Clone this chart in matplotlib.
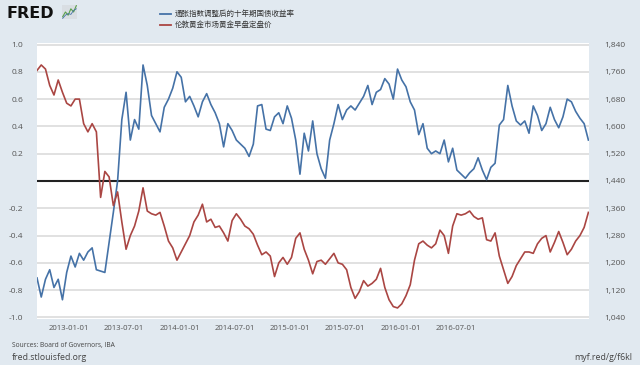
import matplotlib.pyplot as plt
import matplotlib.dates as mdates
import pandas as pd

plt.rcParams['font.family'] = ['Open Sans', 'Noto Sans CJK SC', 'DejaVu Sans']

# biweekly readings, 2012-09-17 .. 2017-09-11
dates = pd.date_range('2012-09-17', periods=131, freq='14D')

# 10-year TIPS real yield (%)
tips = [-0.71, -0.85, -0.72, -0.65, -0.78, -0.72, -0.87, -0.67, -0.55, -0.63,
        -0.53, -0.58, -0.52, -0.49, -0.65, -0.66, -0.67, -0.45, -0.23, 0.00,
        0.45, 0.65, 0.30, 0.45, 0.38, 0.85, 0.70, 0.48, 0.42, 0.36,
        0.54, 0.60, 0.68, 0.80, 0.76, 0.58, 0.62, 0.55, 0.47, 0.58,
        0.64, 0.56, 0.50, 0.42, 0.25, 0.42, 0.37, 0.30, 0.27, 0.24,
        0.18, 0.27, 0.55, 0.56, 0.38, 0.37, 0.47, 0.50, 0.42, 0.55,
        0.46, 0.30, 0.05, 0.35, 0.22, 0.44, 0.20, 0.09, 0.02, 0.30,
        0.42, 0.56, 0.45, 0.52, 0.55, 0.52, 0.57, 0.62, 0.70, 0.56,
        0.65, 0.67, 0.75, 0.71, 0.60, 0.82, 0.74, 0.69, 0.58, 0.52,
        0.34, 0.42, 0.24, 0.20, 0.22, 0.20, 0.30, 0.14, 0.24, 0.08,
        0.05, 0.02, 0.06, 0.09, 0.17, 0.08, 0.01, 0.10, 0.13, 0.41,
        0.45, 0.70, 0.55, 0.44, 0.41, 0.44, 0.35, 0.55, 0.48, 0.37,
        0.42, 0.54, 0.45, 0.39, 0.47, 0.60, 0.58, 0.51, 0.46, 0.42,
        0.30]

# London gold AM fix (USD)
gold = [1764, 1780, 1768, 1720, 1692, 1736, 1700, 1668, 1660, 1680,
        1680, 1608, 1584, 1608, 1584, 1392, 1468, 1452, 1368, 1408,
        1320, 1240, 1280, 1308, 1352, 1420, 1352, 1344, 1340, 1348,
        1308, 1264, 1244, 1208, 1232, 1256, 1280, 1320, 1340, 1372,
        1320, 1328, 1304, 1308, 1288, 1264, 1324, 1344, 1328, 1308,
        1300, 1284, 1252, 1224, 1232, 1220, 1160, 1200, 1216, 1196,
        1216, 1272, 1288, 1240, 1208, 1168, 1204, 1208, 1196, 1212,
        1228, 1200, 1196, 1180, 1128, 1096, 1116, 1148, 1132, 1140,
        1152, 1184, 1128, 1092, 1072, 1068, 1080, 1104, 1136, 1208,
        1256, 1264, 1252, 1244, 1256, 1296, 1280, 1228, 1308, 1344,
        1340, 1344, 1352, 1336, 1328, 1332, 1268, 1264, 1288, 1220,
        1180, 1140, 1160, 1192, 1212, 1232, 1232, 1228, 1256, 1272,
        1280, 1232, 1260, 1292, 1260, 1224, 1240, 1264, 1280, 1304,
        1348]

left_ticks = [-1.0, -0.8, -0.6, -0.4, -0.2, 0.2, 0.4, 0.6, 0.8, 1.0]
right_ticks = [1040, 1120, 1200, 1280, 1360, 1440, 1520, 1600, 1680, 1760, 1840]
x_ticks = ['2013-01-01', '2013-07-01', '2014-01-01', '2014-07-01',
           '2015-01-01', '2015-07-01', '2016-01-01', '2016-07-01']

BG = '#e1e9f0'
BLUE = '#4572a7'
RED = '#aa4643'
TXT = '#555555'

fig = plt.figure(figsize=(6.4, 3.65), dpi=100)
fig.patch.set_facecolor(BG)
ax = fig.add_axes([37 / 640, 1 - 319 / 365, 552 / 640, 276 / 365])
ax.set_facecolor('white')
for s in ax.spines.values():
    s.set_visible(False)

lim = 1.011
ax.set_ylim(-lim, lim)
ax.set_xlim(pd.Timestamp('2012-09-17'), pd.Timestamp('2017-09-13'))
for t in left_ticks:
    ax.axhline(t, color='#d8d8d8', lw=1.1, zorder=0)
ax.axhline(0, color='#222222', lw=1.5, zorder=1)

ax.set_yticks(left_ticks)
ax.set_yticklabels([f'{t:.1f}' for t in left_ticks])
ax.tick_params(axis='y', length=0, pad=10, labelsize=6, labelcolor=TXT)
ax.set_xticks([pd.Timestamp(d) for d in x_ticks])
ax.set_xticklabels(x_ticks)
ax.tick_params(axis='x', length=0, pad=4, labelsize=5.6, labelcolor=TXT)

ax.plot(dates, tips, color=BLUE, lw=1.2, zorder=3)

ax2 = ax.twinx()
for s in ax2.spines.values():
    s.set_visible(False)
ax2.set_ylim(1440 - lim * 400, 1440 + lim * 400)
ax2.set_yticks(right_ticks)
ax2.set_yticklabels([f'{t:,}' for t in right_ticks])
ax2.tick_params(axis='y', length=0, pad=11, labelsize=6, labelcolor=TXT)
ax2.plot(dates, gold, color=RED, lw=1.2, zorder=2)

# header: logo + legend
fig.text(7 / 640, 1 - 14 / 365, 'FRED', fontsize=11.5, fontweight='heavy',
         family='DejaVu Sans', color='#111111', va='center', ha='left')
icon = fig.add_axes([62 / 640, 1 - 19 / 365, 15 / 640, 14 / 365])
icon.set_facecolor('#d9dee3')
icon.plot([0, 1, 2, 3, 4, 5], [0.2, 0.5, 0.3, 0.7, 0.5, 0.9], color='#5aa04a', lw=0.8)
icon.plot([0, 1, 2, 3, 4, 5], [0.1, 0.3, 0.4, 0.35, 0.6, 0.7], color='#4572a7', lw=0.6)
icon.set_xticks([])
icon.set_yticks([])
for s in icon.spines.values():
    s.set_visible(False)

fig.lines.append(plt.Line2D([160 / 640, 171 / 640], [1 - 14 / 365] * 2,
                            transform=fig.transFigure, color=BLUE, lw=1.3))
fig.lines.append(plt.Line2D([160 / 640, 171 / 640], [1 - 25 / 365] * 2,
                            transform=fig.transFigure, color=RED, lw=1.3))
fig.text(175 / 640, 1 - 14 / 365, '通胀指数调整后的十年期国债收益率', fontsize=5.4,
         color='#333333', va='center')
fig.text(175 / 640, 1 - 25 / 365, '伦敦黄金市场黄金早盘定盘价', fontsize=5.4,
         color='#333333', va='center')

# footer
fig.text(12 / 640, 1 - 346 / 365, 'Sources: Board of Governors, IBA', fontsize=4.8,
         color='#444444', va='center')
fig.text(12 / 640, 1 - 358 / 365, 'fred.stlouisfed.org', fontsize=6.3,
         color='#444444', va='center')
fig.text(632 / 640, 1 - 358 / 365, 'myf.red/g/f6kl', fontsize=6.3,
         color='#444444', va='center', ha='right')

fig.savefig('out.png', dpi=100, facecolor=BG)
